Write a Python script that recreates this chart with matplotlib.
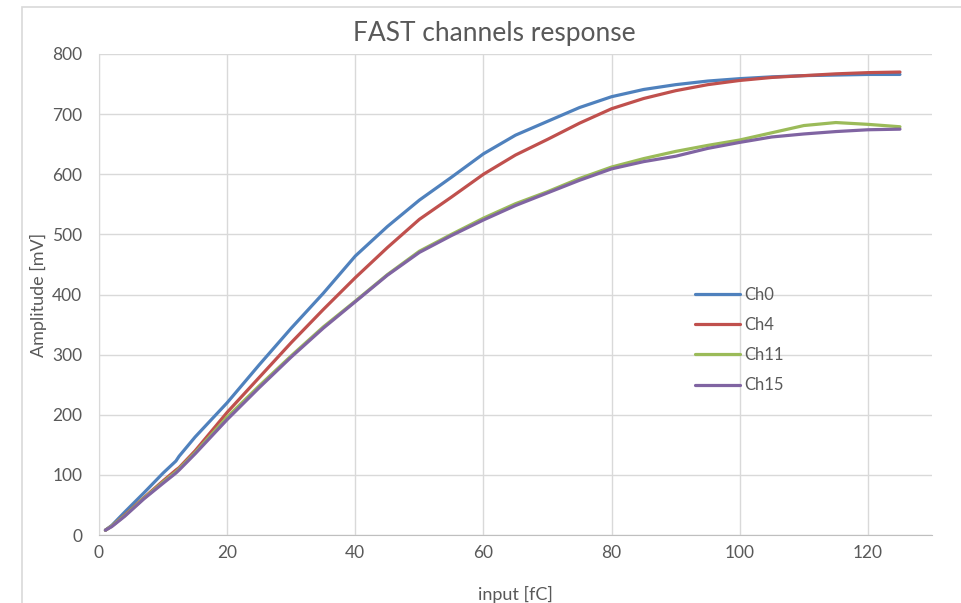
import matplotlib
matplotlib.use('Agg')
import matplotlib.pyplot as plt
from matplotlib.patches import Rectangle

plt.rcParams['font.family'] = ['Lato', 'DejaVu Sans']

# values
x_in = [1, 2, 4, 7, 10, 12, 12.5, 15, 20, 25, 30, 35, 40, 45, 50, 55, 60, 65, 70, 75,
        80, 85, 90, 95, 100, 105, 110, 115, 120, 125]
ch0 = [8, 16, 38, 70, 103, 123, 131, 163, 220, 283, 344, 402, 464, 513, 557, 595, 634, 665,
       688, 711, 729, 741, 749, 755, 759, 762, 764, 765, 766, 766]
ch4 = [8, 15, 33, 62, 90, 108, 112, 140, 204, 262, 320, 375, 428, 478, 525, 562, 600, 632,
       658, 685, 709, 726, 739, 749, 756, 761, 764, 767, 769, 770]
ch11 = [8, 15, 32, 61, 88, 105, 110, 137, 196, 248, 298, 346, 389, 433, 472, 500, 527, 551,
        571, 593, 612, 626, 638, 648, 657, 669, 681, 686, 683, 679]
ch15 = [8, 14, 31, 60, 86, 103, 108, 135, 192, 245, 296, 344, 388, 432, 470, 498, 524, 548,
        569, 590, 609, 621, 630, 643, 653, 662, 667, 671, 674, 675]

series = [('Ch0', ch0, '#4F81BD'), ('Ch4', ch4, '#C0504D'),
          ('Ch11', ch11, '#9BBB59'), ('Ch15', ch15, '#8064A2')]

txt = '#595959'
fig = plt.figure(figsize=(9.61, 6.03), dpi=100)
ax = fig.add_axes([99/961, 1-535/603, 833/961, 481/603])

for name, vals, col in series:
    ax.plot(x_in, vals, color=col, linewidth=2.3, label=name,
            solid_capstyle='round', solid_joinstyle='round')

ax.set_xlim(0, 130)
ax.set_ylim(0, 800)
ax.set_xticks(range(0, 121, 20))
ax.set_yticks(range(0, 801, 100))
ax.grid(True, color='#D9D9D9', linewidth=1)
ax.set_axisbelow(True)
for s in ['top', 'right']:
    ax.spines[s].set_visible(False)
ax.spines['left'].set_color('#D9D9D9')
ax.spines['bottom'].set_color('#BFBFBF')
ax.tick_params(length=0, labelsize=12.5, colors=txt)
ax.tick_params(axis='x', pad=7)
ax.tick_params(axis='y', pad=12)

ax.set_xlabel('input [fC]', fontsize=13, color=txt, labelpad=18)
ax.set_ylabel('Amplitude [mV]', fontsize=13, color=txt, labelpad=4)
fig.text(494/961, 1-33/603, 'FAST channels response', fontsize=19, color=txt,
         ha='center', va='center')

leg = ax.legend(frameon=False, loc='center left', bbox_to_anchor=(0.697, 0.405),
                fontsize=12, labelspacing=0.85, handlelength=2.7, handletextpad=0.3)
for t in leg.get_texts():
    t.set_color(txt)

# outer chart border
fig.patches.append(Rectangle((22/961, -0.1), 1.0, 1 - 7/603 + 0.1, transform=fig.transFigure,
                             fill=False, edgecolor='#D9D9D9', linewidth=1.2))

fig.savefig('out.png', dpi=100)
